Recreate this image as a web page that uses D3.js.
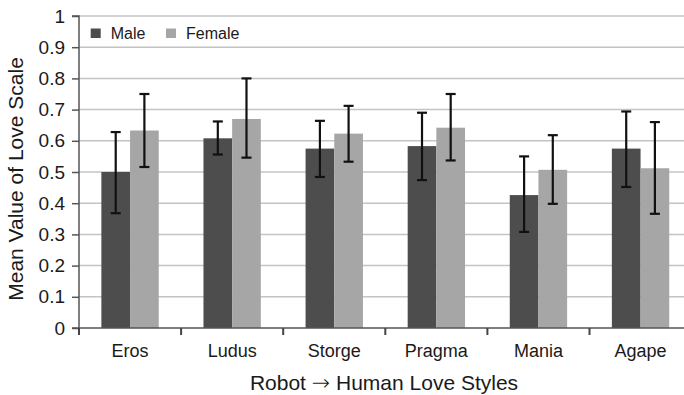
<!DOCTYPE html>
<html><head><meta charset="utf-8">
<script src="https://cdn.jsdelivr.net/npm/d3@7/dist/d3.min.js"></script>
<style>
html,body{margin:0;padding:0;background:#fff;overflow:hidden;}
svg{display:block;font-family:"Liberation Sans",Arial,sans-serif;}
</style></head>
<body>
<svg id="c" width="684" height="395"></svg>
<script>
const categories = ["Eros","Ludus","Storge","Pragma","Mania","Agape"];
const series = ["Male","Female"];
const maleMean  = [0.500, 0.608, 0.575, 0.583, 0.426, 0.575];
const maleLow   = [0.368, 0.556, 0.484, 0.474, 0.308, 0.452];
const maleHigh  = [0.628, 0.662, 0.664, 0.690, 0.550, 0.694];
const femaleMean= [0.633, 0.670, 0.623, 0.642, 0.507, 0.512];
const femaleLow = [0.516, 0.546, 0.533, 0.537, 0.398, 0.366];
const femaleHigh= [0.750, 0.800, 0.712, 0.750, 0.618, 0.660];
const yTicks = [0,0.1,0.2,0.3,0.4,0.5,0.6,0.7,0.8,0.9,1];
const yTickLabels = ["0","0.1","0.2","0.3","0.4","0.5","0.6","0.7","0.8","0.9","1"];
const colors = ["#4d4d4d","#a6a6a6"];

(function(){
const svg = d3.select("#c");
const mLeft = 79, mTop = 16, mBottom = 328, mRight = 691.6;
const x = d3.scaleBand().domain(categories).range([mLeft,mRight]).paddingInner(0).paddingOuter(0);
const y = d3.scaleLinear().domain([0,1]).range([mBottom,mTop]);
const inner = d3.scaleBand().domain(series).range([0,x.bandwidth()]).paddingInner(0).paddingOuter(0.78);

const data = categories.map((c,i)=>({c, vals:[
  {s:"Male", m:maleMean[i], lo:maleLow[i], hi:maleHigh[i]},
  {s:"Female", m:femaleMean[i], lo:femaleLow[i], hi:femaleHigh[i]}]}));

// gridlines
svg.append("g").selectAll("line").data(yTicks.slice(1)).join("line")
  .attr("x1",mLeft).attr("x2",mRight).attr("y1",d=>y(d)).attr("y2",d=>y(d))
  .attr("stroke","#c4c4c4").attr("stroke-width",1.5);

// bars
const g = svg.append("g").selectAll("g").data(data).join("g")
  .attr("transform",d=>`translate(${x(d.c)},0)`);
g.selectAll("rect").data(d=>d.vals).join("rect")
  .attr("x",d=>inner(d.s)).attr("width",inner.bandwidth())
  .attr("y",d=>y(d.m)).attr("height",d=>y(0)-y(d.m))
  .attr("fill",(d,i)=>colors[i]);

// error bars
const eb = g.selectAll("g.eb").data(d=>d.vals).join("g").attr("class","eb")
  .attr("transform",d=>`translate(${inner(d.s)+inner.bandwidth()/2},0)`);
eb.append("line").attr("x1",0).attr("x2",0).attr("y1",d=>y(d.lo)).attr("y2",d=>y(d.hi))
  .attr("stroke","#111").attr("stroke-width",2.2);
eb.append("line").attr("x1",-5).attr("x2",5).attr("y1",d=>y(d.lo)).attr("y2",d=>y(d.lo))
  .attr("stroke","#111").attr("stroke-width",2.2);
eb.append("line").attr("x1",-5).attr("x2",5).attr("y1",d=>y(d.hi)).attr("y2",d=>y(d.hi))
  .attr("stroke","#111").attr("stroke-width",2.2);

// y axis
const yAxis = d3.axisLeft(y).tickValues(yTicks).tickFormat((d,i)=>yTickLabels[i]).tickSize(7).tickPadding(7);
const ya = svg.append("g").attr("transform",`translate(${mLeft},0)`).call(yAxis);
ya.select(".domain").attr("stroke","#555").attr("stroke-width",1.5).attr("d",`M-7,${mTop}H0V${mBottom}`);
ya.selectAll(".tick line").attr("stroke","#555").attr("stroke-width",1.5);
ya.selectAll(".tick text").attr("font-size","19px").attr("fill","#1a1a1a").attr("font-family","Liberation Sans,Arial,sans-serif");

// x axis
const xa = svg.append("g").attr("transform",`translate(0,${mBottom})`);
xa.append("line").attr("x1",mLeft-7).attr("x2",mRight).attr("y1",0).attr("y2",0).attr("stroke","#555").attr("stroke-width",1.5);
const bounds = categories.map(c=>x(c)).concat([x.range()[1]]);
xa.selectAll("line.t").data(bounds).join("line").attr("class","t")
  .attr("x1",d=>d).attr("x2",d=>d).attr("y1",0).attr("y2",7).attr("stroke","#444").attr("stroke-width",2);
xa.selectAll("text").data(categories).join("text")
  .attr("x",d=>x(d)+x.bandwidth()/2).attr("y",28.5).attr("text-anchor","middle")
  .attr("font-size","18px").attr("fill","#1a1a1a").text(d=>d);

// legend
const leg = svg.append("g");
const legX = [90.7, 166];
series.forEach((s,i)=>{
  leg.append("rect").attr("x",legX[i]).attr("y",28.5).attr("width",10).attr("height",9.5).attr("fill",colors[i]);
  leg.append("text").attr("x",legX[i]+20).attr("y",39).attr("font-size","16px").attr("fill","#1a1a1a").text(s);
});

// axis titles
const xt = svg.append("text").attr("x",384).attr("y",389.5).attr("text-anchor","middle")
  .attr("font-size","21px").attr("fill","#1a1a1a");
xt.append("tspan").text("Robot ");
xt.append("tspan").attr("font-family","DejaVu Sans").attr("font-weight","300").attr("font-size","22px").text("\u2192");
xt.append("tspan").text(" Human Love Styles");
svg.append("text").attr("transform","translate(23,179) rotate(-90)").attr("text-anchor","middle")
  .attr("font-size","21px").attr("fill","#1a1a1a").text("Mean Value of Love Scale");
})();
</script>
</body></html>
